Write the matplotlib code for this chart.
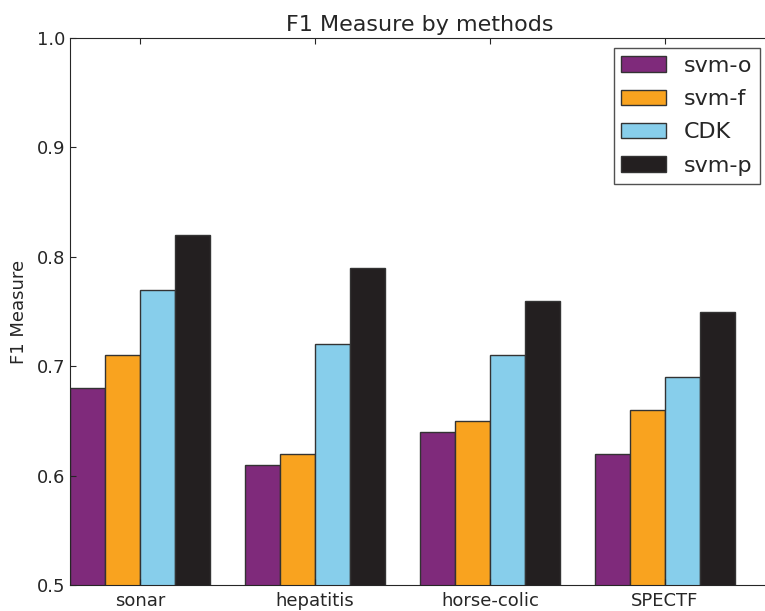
#import neccessary libraries
import numpy as np
import matplotlib
matplotlib.use("Agg")
import matplotlib.pyplot as plt

#data
datasets = ["sonar", "hepatitis", "horse-colic", "SPECTF"]
methods = ["svm-o", "svm-f", "CDK", "svm-p"]
svm_o = [0.68, 0.61, 0.64, 0.62]
svm_f = [0.71, 0.62, 0.65, 0.66]
cdk = [0.77, 0.72, 0.71, 0.69]
svm_p = [0.82, 0.79, 0.76, 0.75]
colors = ["#7f2a7b", "#f9a31f", "#87ceeb", "#231f20"]

plt.rcParams["text.color"] = "#262626"
plt.rcParams["xtick.color"] = "#262626"
plt.rcParams["ytick.color"] = "#262626"
plt.rcParams["axes.labelcolor"] = "#262626"

fig = plt.figure(figsize=(7.65, 6.11), dpi=100)
#right edge of the axes sits just outside the picture, like the original
ax = fig.add_axes([70/765, 26/611, 700/765, 547/611])

x = np.arange(len(datasets))
w = 0.2
for i, vals in enumerate([svm_o, svm_f, cdk, svm_p]):
    ax.bar(x + i*w, vals, width=w, align="edge", color=colors[i],
           edgecolor="#333333", linewidth=1.0, label=methods[i])

ax.set_xlim(0, 4)
ax.set_ylim(0.5, 1.0)
ax.set_xticks(x + 2*w)
ax.set_xticklabels(datasets, fontsize=13)
ax.set_yticks([0.5, 0.6, 0.7, 0.8, 0.9, 1.0])
ax.tick_params(axis="x", direction="in", length=4, top=True, pad=5)
ax.tick_params(axis="y", direction="in", length=4, labelsize=13)
ax.set_ylabel("F1 Measure", fontsize=13, labelpad=6)
ax.set_title("F1 Measure by methods", fontsize=16, pad=5)
for s in ax.spines.values():
    s.set_color("#262626")

leg = ax.legend(loc="upper right", fontsize=16, fancybox=False,
                borderaxespad=0.45, handlelength=2.0, labelspacing=0.6,
                borderpad=0.35)
leg.get_frame().set_edgecolor("#262626")

fig.savefig("out.png", dpi=100)
